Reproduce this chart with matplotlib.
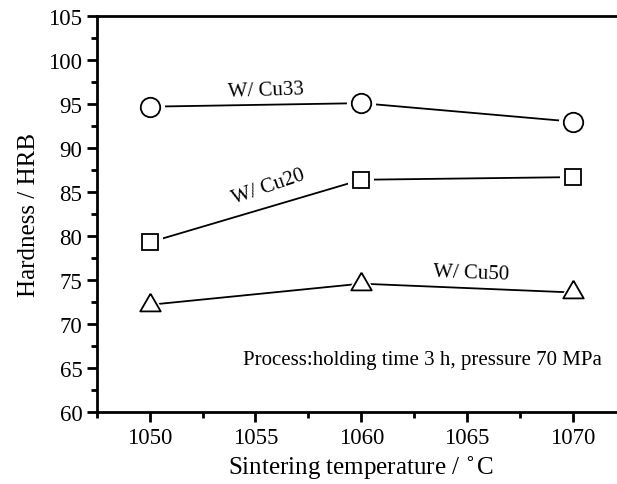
import matplotlib.pyplot as plt
import numpy as np
from matplotlib.ticker import MultipleLocator

plt.rcParams['font.family'] = ['Liberation Serif', 'DejaVu Serif']

temps = [1050, 1060, 1070]
cu33 = [94.7, 95.1, 93.0]
cu20 = [79.3, 86.4, 86.7]
cu50 = [72.2, 74.6, 73.6]

# triangle with its centroid on the data point, like the original software
tri = [(0, 1), (-0.866, -0.5), (0.866, -0.5), (0, 1)]

fig = plt.figure(figsize=(6.17, 4.85), dpi=100)
ax = fig.add_axes([0.157, 0.148, 0.857, 0.817])


def draw(y, marker, size):
    ax.plot(temps, y, color='black', lw=1.3, zorder=1)
    # white halo leaves a small gap between line and symbol
    ax.plot(temps, y, ls='none', marker=marker, ms=size + 7, mfc='white',
            mec='white', mew=0, zorder=2)
    ax.plot(temps, y, ls='none', marker=marker, ms=size, mfc='white',
            mec='black', mew=1.3, zorder=3)


draw(cu33, 'o', 14)
draw(cu20, 's', 12)
draw(cu50, tri, 17)

ax.text(1055.5, 96.6, 'W/ Cu33', fontsize=15, ha='center', va='center', rotation=2)
ax.text(1055.6, 85.7, 'W/ Cu20', fontsize=15, ha='center', va='center', rotation=19)
ax.text(1065.2, 75.8, 'W/ Cu50', fontsize=15, ha='center', va='center', rotation=-2)
ax.text(1071.4, 66.0, 'Process:holding time 3 h, pressure 70 MPa', fontsize=15,
        ha='right', va='center')

ax.set_xlim(1047.5, 1072.5)
ax.set_ylim(60, 105)
ax.xaxis.set_major_locator(MultipleLocator(5))
ax.xaxis.set_minor_locator(MultipleLocator(2.5))
ax.yaxis.set_major_locator(MultipleLocator(5))
ax.yaxis.set_minor_locator(MultipleLocator(2.5))

for s in ax.spines.values():
    s.set_linewidth(2)
ax.tick_params(which='both', direction='out', width=2, labelsize=16.5, top=False, right=False)
ax.tick_params(which='major', length=7)
ax.tick_params(which='minor', length=4)

ax.set_xlabel('Sintering temperature / $^{\\circ}$C', fontsize=18, labelpad=4)
ax.set_ylabel('Hardness / HRB', fontsize=18, labelpad=6)

fig.savefig('out.png', dpi=100)
